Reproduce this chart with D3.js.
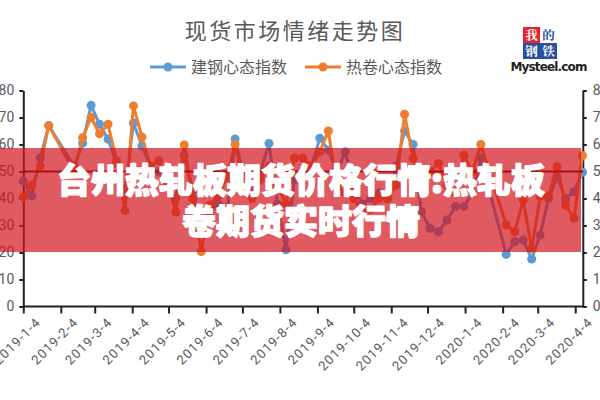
<!DOCTYPE html>
<html><head><meta charset="utf-8">
<script src="https://cdn.jsdelivr.net/npm/d3@7/dist/d3.min.js"></script>
<style>
html,body{margin:0;padding:0;background:#fff;}
svg{display:block;}
</style></head>
<body>
<svg id="chart" width="600" height="400"></svg>
<script>
const title = "现货市场情绪走势图";
const seriesNames = ["建钢心态指数", "热卷心态指数"];
const dates = ["2019-1-4","2019-1-11","2019-1-18","2019-1-25","2019-2-15","2019-2-22","2019-3-1","2019-3-8","2019-3-15","2019-3-22","2019-3-29","2019-4-5","2019-4-12","2019-4-19","2019-4-26","2019-5-3","2019-5-10","2019-5-17","2019-5-24","2019-5-31","2019-6-7","2019-6-14","2019-6-21","2019-6-28","2019-7-5","2019-7-12","2019-7-19","2019-7-26","2019-8-2","2019-8-9","2019-8-16","2019-8-23","2019-8-30","2019-9-6","2019-9-13","2019-9-20","2019-9-27","2019-10-4","2019-10-11","2019-10-18","2019-10-25","2019-11-1","2019-11-8","2019-11-15","2019-11-22","2019-11-29","2019-12-6","2019-12-13","2019-12-20","2019-12-27","2020-1-3","2020-1-10","2020-1-17","2020-2-7","2020-2-14","2020-2-21","2020-2-28","2020-3-6","2020-3-13","2020-3-20","2020-3-27","2020-4-3","2020-4-10"];
const jiangangValues = [46.5,41,55,67,52,60.5,74.5,67.5,62,53,42,68,59.5,52,50,44,40,56,43,28,35,38,33,62,48,42,50,60.4,38,21,47,50,52,62.3,58,50,57.3,45,38,40,42,40,52,65,60,35,29,27.7,32,37,37,42,55,19.3,24,24.6,17.6,26.5,40,48,40,42.5,49.7];
const rejuanValues = [40.5,45,52,67,50,62.5,70,64,67.5,54,35.5,74.3,62.8,52,54,46,35,59.8,40,20.3,37.6,41,48,60,46,40,47,52,45,38,55,55,52,57.3,65,45,42,40,35,36,40,40,45,71.2,55,45,50,53,45,42,56,50,60,30.2,27.7,39.4,21.5,40.7,41,51.8,37.6,32.7,55.9];
const tickLabels = ["2019-1-4","2019-2-4","2019-3-4","2019-4-4","2019-5-4","2019-6-4","2019-7-4","2019-8-4","2019-9-4","2019-10-4","2019-11-4","2019-12-4","2020-1-4","2020-2-4","2020-3-4","2020-4-4"];
const yTicks = [0,10,20,30,40,50,60,70,80];
const refValue = 50;
const bannerLines = ["台州热轧板期货价格行情:热轧板", "卷期货实时行情"];
const logoChars = ["我","的","钢","铁"];
const logoText = "Mysteel.com";

const colors = ["#5B9BD5", "#ED7D31"];
const parse = s => { const [y,m,d] = s.split("-").map(Number); return new Date(y, m-1, d); };

const svg = d3.select("#chart");
const x = d3.scaleTime().domain([parse("2019-1-4"), parse("2020-4-10")]).range([23.3, 582.5]);
const y = d3.scaleLinear().domain([0, 80]).range([306.5, 90.5]);

const textCol = "#595959";
const font = "Roboto, 'Liberation Sans', sans-serif";
const cjk = "'Noto Sans CJK SC', sans-serif";

// Title
svg.append("text").attr("x", 295).attr("y", 39).attr("text-anchor", "middle")
  .attr("font-family", cjk).attr("font-size", 22).attr("letter-spacing", 2.5)
  .attr("fill", textCol).text(title);

// Legend
const legendX = [150, 305];
seriesNames.forEach((n, i) => {
  const g = svg.append("g").attr("transform", `translate(${legendX[i]},67)`);
  g.append("line").attr("x1", 0).attr("x2", 36).attr("y1", 0).attr("y2", 0)
    .attr("stroke", colors[i]).attr("stroke-width", 3);
  g.append("circle").attr("cx", 18).attr("cy", 0).attr("r", 4.5).attr("fill", colors[i]);
  g.append("text").attr("x", 41).attr("y", 6).attr("font-family", cjk).attr("font-size", 16)
    .attr("fill", textCol).text(n);
});

// Logo
const logo = svg.append("g").attr("transform", "translate(523,27)");
const cells = [{bg:"#E8212B", fg:"#fff"},{bg:"#fff", fg:"#2A4FA0"},{bg:"#2A4FA0", fg:"#fff"},{bg:"#2A4FA0", fg:"#fff"}];
logoChars.forEach((c, i) => {
  const cx = (i % 2) * 17, cy = Math.floor(i / 2) * 16;
  logo.append("rect").attr("x", cx).attr("y", cy).attr("width", 17).attr("height", 16).attr("fill", cells[i].bg);
  logo.append("text").attr("x", cx + 8.5).attr("y", cy + 12.5).attr("text-anchor", "middle")
    .attr("font-family", "'Noto Serif CJK SC', 'Noto Sans CJK SC', serif").attr("font-size", 12.5)
    .attr("font-weight", "bold").attr("fill", cells[i].fg).text(c);
});
svg.append("text").attr("x", 549).attr("y", 71).attr("text-anchor", "middle")
  .attr("font-family", "'DejaVu Sans', sans-serif").attr("font-weight", "bold").attr("font-size", 12)
  .attr("fill", "#222").attr("textLength", 77).text(logoText);

// Axes
const tickDates = tickLabels.map(parse);
const xAxis = svg.append("g").attr("transform", "translate(0,306.5)")
  .call(d3.axisBottom(x).tickValues(tickDates).tickFormat((d, i) => tickLabels[i]).tickSize(7).tickSizeOuter(0));
xAxis.select(".domain").attr("stroke", "#222").attr("stroke-width", 2).attr("d", "M23.3,0H583");
xAxis.selectAll(".tick line").attr("stroke", "#222").attr("stroke-width", 2);
xAxis.selectAll(".tick text").attr("font-family", font).attr("font-size", 13).attr("letter-spacing", 1.1)
  .attr("fill", textCol).attr("text-anchor", "end")
  .attr("transform", "translate(7,6) rotate(-45)").attr("dy", "0.7em").attr("y", 6).attr("x", 0);

const yl = svg.append("g").attr("transform", "translate(23.3,0)")
  .call(d3.axisLeft(y).tickValues(yTicks).tickSize(4).tickPadding(5).tickSizeOuter(0));
const yr = svg.append("g").attr("transform", "translate(582.8,0)")
  .call(d3.axisRight(y).tickValues(yTicks).tickSize(4).tickPadding(6).tickSizeOuter(0));
[yl, yr].forEach(a => {
  a.select(".domain").attr("stroke", "#222").attr("stroke-width", 2);
  a.selectAll(".tick line").attr("stroke", "#222").attr("stroke-width", 2);
  a.selectAll(".tick text").attr("font-family", font).attr("font-size", 14).attr("fill", textCol);
});

// Series
const series = [jiangangValues, rejuanValues];
const line = d3.line().x(d => x(parse(d.date))).y(d => y(d.v));
series.forEach((vals, i) => {
  const pts = dates.map((d, j) => ({date: d, v: vals[j]}));
  svg.append("path").datum(pts).attr("d", line).attr("fill", "none")
    .attr("stroke", colors[i]).attr("stroke-width", 3).attr("stroke-linejoin", "round");
  svg.append("g").selectAll("circle").data(pts).join("circle")
    .attr("cx", d => x(parse(d.date))).attr("cy", d => y(d.v)).attr("r", 4.5).attr("fill", colors[i]);
});

// Reference line
svg.append("line").attr("x1", 23.3).attr("x2", 582.8).attr("y1", y(refValue)).attr("y2", y(refValue))
  .attr("stroke", "#5a0000").attr("stroke-width", 2);

// Banner
svg.append("rect").attr("x", 0).attr("y", 148).attr("width", 581).attr("height", 104)
  .attr("fill", "rgb(210,20,30)").attr("fill-opacity", 0.7);
bannerLines.forEach((t, i) => {
  svg.append("text").attr("x", 301).attr("y", 193 + i * 41).attr("text-anchor", "middle")
    .attr("font-family", cjk).attr("font-weight", 900).attr("font-size", 34)
    .attr("fill", "#fff").attr("stroke", "#fff").attr("stroke-width", 1.4)
    .attr("stroke-linejoin", "round").text(t);
});
</script>
</body></html>
